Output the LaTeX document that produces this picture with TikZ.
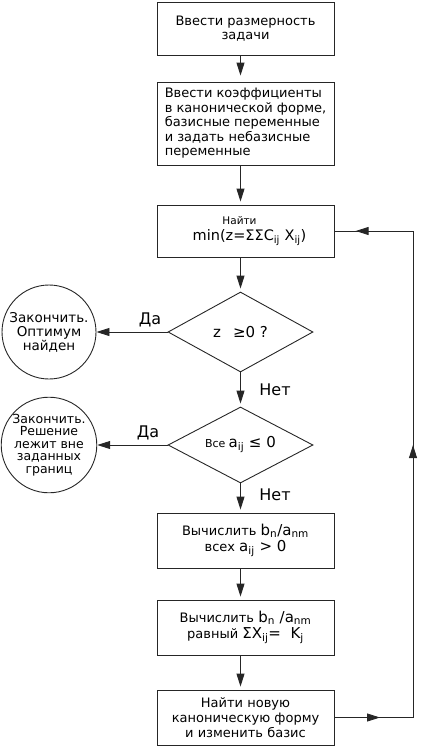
\documentclass[tikz,border=0pt]{standalone}
\usepackage{fontspec}
\setmainfont{DejaVu Sans}
\usetikzlibrary{shapes.geometric,arrows.meta,decorations.markings}
\newcommand{\fs}[1]{\fontsize{#1}{#1}\selectfont}
\tikzset{
  ln/.style={line width=0.9pt, draw=black!85},
  box/.style={ln, rectangle, minimum width=177pt, minimum height=53pt, inner sep=0pt, align=center,
    font=\fontsize{13}{14.5}\selectfont},
  dia/.style={ln, diamond, aspect=1.8, minimum width=145pt, minimum height=80pt, inner sep=0pt, align=center},
  term/.style={ln, circle, minimum size=94pt, inner sep=0pt, align=center},
  arr/.style={ln, -{Triangle[length=13pt,width=8pt]}, shorten >=3pt},
  lab/.style={font=\fs{16}, inner sep=0pt},
  tipm/.style={ln, postaction={decorate}, decoration={markings,
    mark=at position #1 with {\arrow{Triangle[length=13pt,width=8pt]}}}},
}
\begin{document}
\begin{tikzpicture}[x=1pt,y=-1pt]
\useasboundingbox (0,0) rectangle (424,755);
\node[box] (b1) at (245.5,28.5) {Ввести размерность\\задачи};
\node[box, minimum height=83pt, align=left] (b2) at (245.5,123.5)
  {Ввести коэффициенты\\в канонической форме,\\базисные переменные\\и задать небазисные\\переменные};
\node[box, minimum height=52pt] (b3) at (245.5,231)
  {\hspace*{-12pt}{\fs{10.5}Найти}\\[1pt]\hspace*{8pt}{\fs{14.5}min(z=ΣΣC\textsubscript{ij} X\textsubscript{ij})}};
\node[dia, font=\fs{15}] (d1) at (240.5,332) {z \ \,≥0 ?};
\node[term, font=\fontsize{13.5}{14}\selectfont] (c1) at (49,332) {Закончить.\\Оптимум\\найден};
\node[dia, minimum height=76pt] (d2) at (240.5,445) {{\fs{11}Все} {\fs{15}a\textsubscript{ij} ≤ 0}};
\node[term, font=\fontsize{12.5}{12.5}\selectfont] (c2) at (49,445) {Закончить.\\Решение\\лежит вне\\заданных\\границ};
\node[box, minimum height=55pt] (b4) at (245.5,540.5)
  {Вычислить {\fs{15}b\textsubscript{n}/a\textsubscript{nm}}\\[2pt]всех {\fs{15}a\textsubscript{ij} > 0}};
\node[box, minimum height=55pt] (b5) at (245.5,627.5)
  {Вычислить {\fs{15}b\textsubscript{n} /a\textsubscript{nm}}\\[2pt]равный {\fs{15}ΣX\textsubscript{ij}= \ K\textsubscript{j}}};
\node[box, minimum height=55pt, font=\fontsize{13}{15}\selectfont] (b6) at (245.5,717.5)
  {Найти новую\\каноническую форму\\и изменить базис};
\node[lab] (da1) at (150,320) {Да};
\node[lab] (net1) at (275,390) {Нет};
\node[lab] (da2) at (148,433) {Да};
\node[lab] (net2) at (275,495) {Нет};
\coordinate (fbbot) at (413,717.5);
\coordinate (fbtop) at (413,231);
\draw[arr, shorten >=6pt] (b1.south -| d1.center) -- (b2.north -| d1.center);
\draw[arr] (b2.south -| d1.center) -- (b3.north -| d1.center);
\draw[arr] (b3.south -| d1.center) -- (d1.north);
\draw[arr, shorten >=0pt] (d1.west) -- (c1.east);
\draw[arr] (d1.south) -- (d2.north);
\draw[arr, shorten >=0pt] (d2.west) -- (c2.east);
\draw[arr] (d2.south) -- (b4.north -| d2.south);
\draw[arr] (b4.south -| d2.south) -- (b5.north -| d2.south);
\draw[arr] (b5.south -| d2.south) -- (b6.north -| d2.south);
\draw[tipm=0.58] (b6.east) -- (fbbot);
\draw[tipm=0.56] (fbbot) -- (fbtop);
\draw[tipm=0.73] (fbtop) -- (b3.east);
\end{tikzpicture}
\end{document}
